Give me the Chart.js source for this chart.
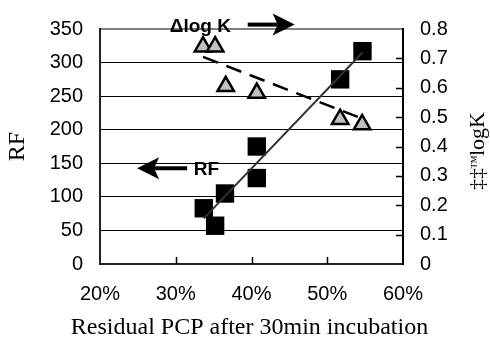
<!DOCTYPE html>
<html>
<head>
<meta charset="utf-8">
<script src="https://cdn.jsdelivr.net/npm/chart.js@4.4.0/dist/chart.umd.min.js"></script>
<style>
  body { margin: 0; background: #fff; }
</style>
</head>
<body>
<canvas id="chart" width="490" height="345"></canvas>
<script>
// residual PCP (%) against RF
var rfX = [33.7, 35.2, 36.5, 40.7, 40.7, 51.7, 54.65];
var rfValues = [83, 57, 105, 175, 128, 275, 317];
// residual PCP (%) against delta log K
var logkX = [33.6, 35.2, 36.6, 40.7, 51.7, 54.6];
var logkValues = [0.74, 0.74, 0.605, 0.582, 0.493, 0.475];
// trendline ends
var rfTrendX = [33.7, 54.65];
var rfTrendY = [68, 315];
var logkTrendX = [33.6, 54.6];
var logkTrendY = [0.705, 0.495];
// axis ticks
var xTicks = [20, 30, 40, 50, 60];
var rfTicks = [0, 50, 100, 150, 200, 250, 300, 350];
var logkTicks = [0, 0.1, 0.2, 0.3, 0.4, 0.5, 0.6, 0.7, 0.8];
var xTitle = 'Residual PCP after 30min incubation';

function pts(xs, ys) {
    return xs.map(function (x, i) { return {x: x, y: ys[i]}; });
}

var tickFont = {family: 'Liberation Sans', size: 20};

function drawArrow(ctx, x1, y, x2) {
    var dir = x2 > x1 ? 1 : -1;
    var hl = 22, hh = 11, notch = 5;
    ctx.strokeStyle = '#000';
    ctx.fillStyle = '#000';
    ctx.lineWidth = 4;
    ctx.beginPath();
    ctx.moveTo(x1, y);
    ctx.lineTo(x2 - dir * (hl - notch), y);
    ctx.stroke();
    ctx.beginPath();
    ctx.moveTo(x2, y);
    ctx.lineTo(x2 - dir * hl, y - hh);
    ctx.lineTo(x2 - dir * (hl - notch), y);
    ctx.lineTo(x2 - dir * hl, y + hh);
    ctx.closePath();
    ctx.fill();
}

var extras = {
    id: 'extras',
    afterDraw: function (chart) {
        var ctx = chart.ctx;
        var xs = chart.scales.x, ys = chart.scales.y, ys1 = chart.scales.y1;
        var area = chart.chartArea;
        ctx.save();
        // inside tick marks
        ctx.strokeStyle = '#000';
        ctx.lineWidth = 1.5;
        xTicks.slice(1, -1).forEach(function (v) {
            var px = Math.round(xs.getPixelForValue(v)) + 0.5;
            ctx.beginPath();
            ctx.moveTo(px, area.bottom);
            ctx.lineTo(px, area.bottom - 7);
            ctx.stroke();
        });
        logkTicks.slice(1, -1).forEach(function (v) {
            var py = Math.round(ys1.getPixelForValue(v)) + 0.5;
            ctx.beginPath();
            ctx.moveTo(area.right, py);
            ctx.lineTo(area.right - 7, py);
            ctx.stroke();
        });

        // text boxes and arrows
        ctx.fillStyle = '#000';
        ctx.font = 'bold 19px "Liberation Sans"';
        ctx.textAlign = 'center';
        ctx.textBaseline = 'middle';
        ctx.fillText('\u0394log K', xs.getPixelForValue(33.25), ys1.getPixelForValue(0.806));
        ctx.fillText('RF', xs.getPixelForValue(34.05), ys.getPixelForValue(140));
        drawArrow(ctx, xs.getPixelForValue(39.5), ys1.getPixelForValue(0.815), xs.getPixelForValue(45.7));
        drawArrow(ctx, xs.getPixelForValue(31.5), ys.getPixelForValue(142.5), xs.getPixelForValue(24.9));

        // x axis title (wider than the plot, so drawn here)
        ctx.font = '24px "Liberation Serif"';
        ctx.fillText(xTitle, (area.left + area.right) / 2 - 2, 328);

        // right axis title (reads bottom to top)
        ctx.translate(478, 190);
        ctx.rotate(-Math.PI / 2);
        ctx.textAlign = 'left';
        ctx.font = '22px "Liberation Serif"';
        ctx.fillText('\u2021\u2021', 0, 0);
        ctx.font = '14px "Liberation Serif"';
        ctx.fillText('\u2122', 21, -2);
        ctx.font = '22px "Liberation Serif"';
        ctx.fillText('logK', 34, 0);
        ctx.restore();
    }
};

new Chart(document.getElementById('chart'), {
    type: 'scatter',
    data: {
        datasets: [{
            type: 'line',
            data: pts(rfTrendX, rfTrendY),
            yAxisID: 'y',
            borderColor: '#333',
            borderWidth: 2,
            pointRadius: 0,
            fill: false,
            order: 0
        }, {
            type: 'line',
            data: pts(logkTrendX, logkTrendY),
            yAxisID: 'y1',
            borderColor: '#000',
            borderWidth: 2.5,
            borderDash: [16, 9],
            pointRadius: 0,
            fill: false,
            order: 0
        }, {
            data: pts(rfX, rfValues),
            yAxisID: 'y',
            pointStyle: 'rect',
            pointRadius: 13,
            backgroundColor: '#000',
            borderColor: '#000',
            borderWidth: 0,
            order: 1
        }, {
            data: pts(logkX, logkValues),
            yAxisID: 'y1',
            pointStyle: 'triangle',
            pointRadius: 9.5,
            backgroundColor: '#c0c0c0',
            borderColor: '#000',
            borderWidth: 2.5,
            order: 1
        }]
    },
    options: {
        responsive: false,
        animation: false,
        devicePixelRatio: 1,
        layout: {padding: {top: 23, left: 0, right: 0, bottom: 0}},
        plugins: {legend: {display: false}, tooltip: {enabled: false}},
        scales: {
            x: {
                type: 'linear',
                min: xTicks[0],
                max: xTicks[xTicks.length - 1],
                afterFit: function (s) { s.height = 81; },
                afterBuildTicks: function (s) { s.ticks = xTicks.map(function (v) { return {value: v}; }); },
                ticks: {
                    font: tickFont,
                    color: '#000',
                    padding: 18,
                    maxRotation: 0,
                    callback: function (v) { return v + '%'; }
                },
                grid: {drawOnChartArea: false, drawTicks: false},
                border: {color: '#222', width: 2}
            },
            y: {
                position: 'left',
                min: 0,
                max: 350,
                afterFit: function (s) { s.width = 100; },
                afterBuildTicks: function (s) { s.ticks = rfTicks.map(function (v) { return {value: v}; }); },
                ticks: {font: tickFont, color: '#000', padding: 17},
                grid: {
                    drawTicks: false,
                    color: function (c) { return c.tick && c.tick.value === 350 ? '#808080' : '#000'; },
                    lineWidth: function (c) { return c.tick && c.tick.value === 350 ? 2 : 1; }
                },
                border: {color: '#222', width: 2},
                title: {
                    display: true,
                    text: 'RF',
                    font: {family: 'Liberation Serif', size: 24},
                    color: '#000',
                    padding: {top: 3, bottom: 0}
                }
            },
            y1: {
                position: 'right',
                min: 0,
                max: 0.8,
                afterFit: function (s) { s.width = 87; },
                afterBuildTicks: function (s) { s.ticks = logkTicks.map(function (v) { return {value: v}; }); },
                ticks: {font: tickFont, color: '#000', padding: 17},
                grid: {drawOnChartArea: false, drawTicks: false},
                border: {color: '#000', width: 2}
            }
        }
    },
    plugins: [extras]
});
</script>
</body>
</html>
